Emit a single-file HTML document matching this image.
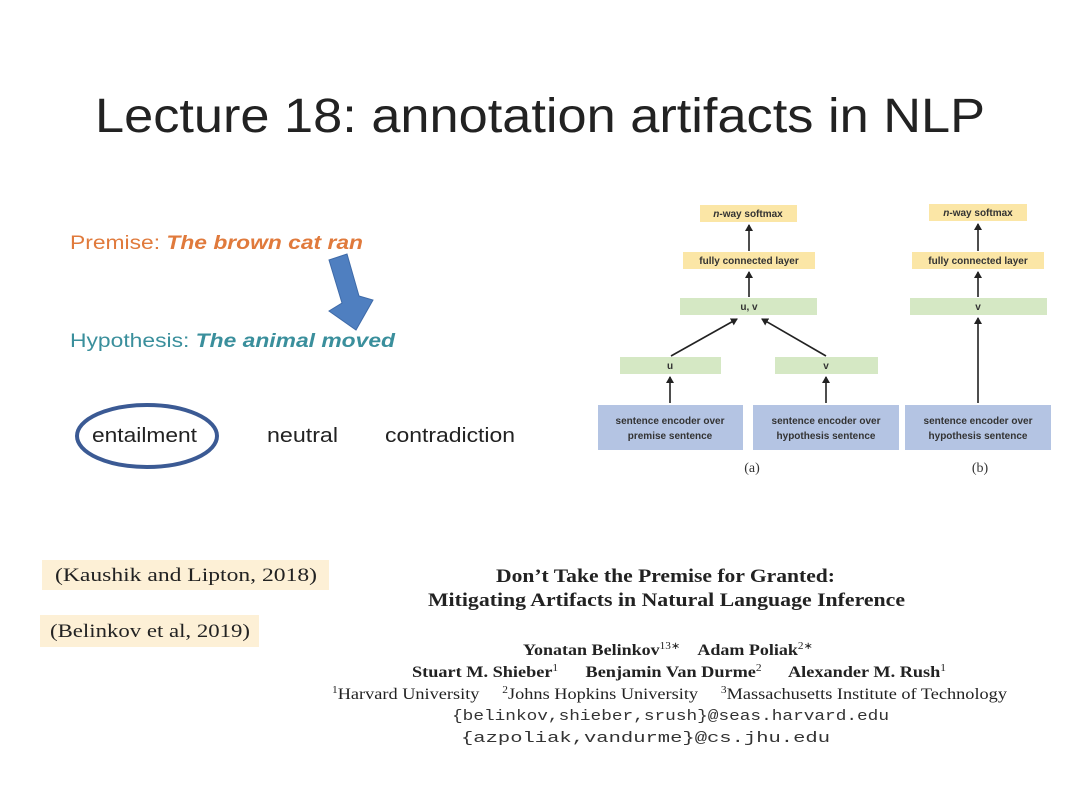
<!DOCTYPE html>
<html><head><meta charset="utf-8"><style>
html,body{margin:0;padding:0;background:#fff;}
svg{display:block}
</style></head><body>
<svg width="1080" height="809" viewBox="0 0 1080 809" xmlns="http://www.w3.org/2000/svg">
<rect width="1080" height="809" fill="#fff"/>
<text x="95" y="132" font-family="Liberation Sans, sans-serif" font-size="48" fill="#222" textLength="890" lengthAdjust="spacingAndGlyphs">Lecture 18: annotation artifacts in NLP</text>

<!-- left -->
<text x="70" y="249" font-family="Liberation Sans, sans-serif" font-size="19" fill="#e07a3c" textLength="293" lengthAdjust="spacingAndGlyphs">Premise: <tspan font-weight="bold" font-style="italic">The brown cat ran</tspan></text>
<polygon points="329,260 347,254 359,296 373,300 356,330 329,311 342,303" fill="#4f7fc0" stroke="#3e6aa8" stroke-width="1"/>
<text x="70" y="347" font-family="Liberation Sans, sans-serif" font-size="19" fill="#3a8f9c" textLength="325" lengthAdjust="spacingAndGlyphs">Hypothesis: <tspan font-weight="bold" font-style="italic">The animal moved</tspan></text>
<ellipse cx="147" cy="436" rx="70" ry="31" fill="none" stroke="#3b5a94" stroke-width="4"/>
<g font-family="Liberation Sans, sans-serif" font-size="20" fill="#222">
<text x="92" y="442" textLength="105" lengthAdjust="spacingAndGlyphs">entailment</text>
<text x="267" y="442" textLength="71" lengthAdjust="spacingAndGlyphs">neutral</text>
<text x="385" y="442" textLength="130" lengthAdjust="spacingAndGlyphs">contradiction</text>
</g>

<!-- diagram -->
<g font-family="Liberation Sans, sans-serif" font-weight="bold" font-size="10" fill="#333" text-anchor="middle">
<rect x="700" y="205" width="97" height="17" fill="#fbe6a6"/><text x="748" y="217"><tspan font-style="italic">n</tspan>-way softmax</text>
<rect x="683" y="252" width="132" height="17" fill="#fbe6a6"/><text x="749" y="264">fully connected layer</text>
<rect x="680" y="298" width="137" height="17" fill="#d5e8c4"/><text x="749" y="310">u, v</text>
<rect x="620" y="357" width="101" height="17" fill="#d5e8c4"/><text x="670" y="369">u</text>
<rect x="775" y="357" width="103" height="17" fill="#d5e8c4"/><text x="826" y="369">v</text>
<rect x="598" y="405" width="145" height="45" fill="#b4c4e3"/><text x="670" y="424">sentence encoder over</text><text x="670" y="439">premise sentence</text>
<rect x="753" y="405" width="146" height="45" fill="#b4c4e3"/><text x="826" y="424">sentence encoder over</text><text x="826" y="439">hypothesis sentence</text>
<rect x="905" y="405" width="146" height="45" fill="#b4c4e3"/><text x="978" y="424">sentence encoder over</text><text x="978" y="439">hypothesis sentence</text>
<rect x="929" y="204" width="98" height="17" fill="#fbe6a6"/><text x="978" y="216"><tspan font-style="italic">n</tspan>-way softmax</text>
<rect x="912" y="252" width="132" height="17" fill="#fbe6a6"/><text x="978" y="264">fully connected layer</text>
<rect x="910" y="298" width="137" height="17" fill="#d5e8c4"/><text x="978" y="310">v</text>
</g>
<defs><marker id="ah" markerWidth="8" markerHeight="8" refX="6" refY="4" orient="auto" markerUnits="userSpaceOnUse"><path d="M0,0 L7,4 L0,8 z" fill="#222"/></marker></defs>
<g stroke="#222" stroke-width="1.6" marker-end="url(#ah)">
<line x1="749" y1="251" x2="749" y2="225"/>
<line x1="749" y1="297" x2="749" y2="272"/>
<line x1="671" y1="356" x2="737" y2="319"/>
<line x1="826" y1="356" x2="762" y2="319"/>
<line x1="670" y1="403" x2="670" y2="377"/>
<line x1="826" y1="403" x2="826" y2="377"/>
<line x1="978" y1="251" x2="978" y2="224"/>
<line x1="978" y1="297" x2="978" y2="272"/>
<line x1="978" y1="403" x2="978" y2="318"/>
</g>
<g font-family="Liberation Serif, serif" font-size="14" fill="#333" text-anchor="middle">
<text x="752" y="472">(a)</text><text x="980" y="472">(b)</text>
</g>

<!-- citations -->
<rect x="42" y="560" width="287" height="30" fill="#fdf0d6"/>
<text x="55" y="581" font-family="Liberation Serif, serif" font-size="19" fill="#222" textLength="262" lengthAdjust="spacingAndGlyphs">(Kaushik and Lipton, 2018)</text>
<rect x="40" y="615" width="219" height="32" fill="#fdf0d6"/>
<text x="50" y="637" font-family="Liberation Serif, serif" font-size="19" fill="#222" textLength="200" lengthAdjust="spacingAndGlyphs">(Belinkov et al, 2019)</text>

<!-- paper -->
<g font-family="Liberation Serif, serif" fill="#222">
<text x="496" y="582" font-size="19" font-weight="bold" textLength="339" lengthAdjust="spacingAndGlyphs">Don’t Take the Premise for Granted:</text>
<text x="428" y="606" font-size="19" font-weight="bold" textLength="477" lengthAdjust="spacingAndGlyphs">Mitigating Artifacts in Natural Language Inference</text>
<text xml:space="preserve" x="523" y="655" font-size="16" font-weight="bold" textLength="290" lengthAdjust="spacingAndGlyphs">Yonatan Belinkov<tspan font-size="10" dy="-6" font-weight="normal">13∗</tspan><tspan dy="6">    Adam Poliak</tspan><tspan font-size="10" dy="-6" font-weight="normal">2∗</tspan></text>
<text xml:space="preserve" x="412" y="677" font-size="16" font-weight="bold" textLength="534" lengthAdjust="spacingAndGlyphs">Stuart M. Shieber<tspan font-size="10" dy="-6" font-weight="normal">1</tspan><tspan dy="6">      Benjamin Van Durme</tspan><tspan font-size="10" dy="-6" font-weight="normal">2</tspan><tspan dy="6">      Alexander M. Rush</tspan><tspan font-size="10" dy="-6" font-weight="normal">1</tspan></text>
<text xml:space="preserve" x="332" y="699" font-size="16" textLength="675" lengthAdjust="spacingAndGlyphs"><tspan font-size="10" dy="-6">1</tspan><tspan dy="6">Harvard University     </tspan><tspan font-size="10" dy="-6">2</tspan><tspan dy="6">Johns Hopkins University     </tspan><tspan font-size="10" dy="-6">3</tspan><tspan dy="6">Massachusetts Institute of Technology</tspan></text>
</g>
<g font-family="Liberation Mono, monospace" font-size="15" fill="#333">
<text x="452" y="720" textLength="437" lengthAdjust="spacingAndGlyphs">{belinkov,shieber,srush}@seas.harvard.edu</text>
<text x="461" y="742" textLength="369" lengthAdjust="spacingAndGlyphs">{azpoliak,vandurme}@cs.jhu.edu</text>
</g>
</svg>
</body></html>
